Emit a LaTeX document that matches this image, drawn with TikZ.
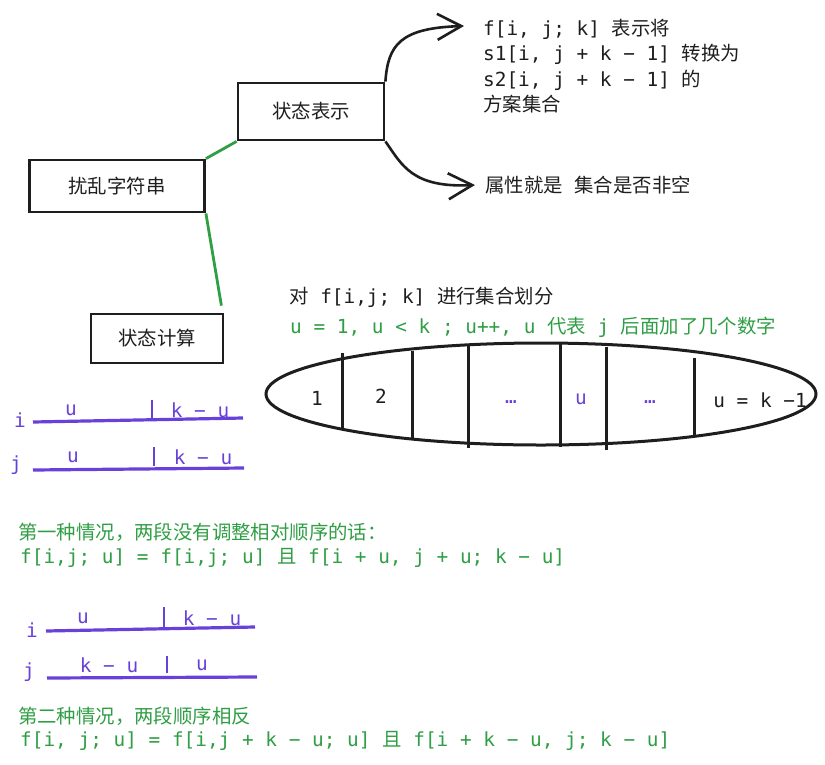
\documentclass[tikz,border=0pt]{standalone}
\usepackage{fontspec}
\setmainfont{DejaVu Sans Mono}
\newfontfamily\zh{Noto Sans CJK SC}
\usetikzlibrary{positioning,arrows.meta}
\definecolor{grn}{HTML}{2F9E44}
\definecolor{vio}{HTML}{6741D9}
\definecolor{ink}{HTML}{1E1E1E}
\tikzset{every node/.style={font=\fontsize{19.4}{25.5}\selectfont, text=ink, inner sep=0pt},
  box/.style={draw=ink, line width=2.8pt, font=\zh\fontsize{19.4}{24}\selectfont},
  tag/.style={anchor=west},
  link/.style={draw=grn, line width=2.8pt},
  curvy/.style={draw=ink, line width=2.6pt, -{Straight Barb[length=24pt,width=26pt]}},
  cut/.style={draw=ink, line width=3pt},
  seg/.style={draw=vio, line width=3.2pt},
  bar/.style={draw=vio, line width=1.8pt}}

\begin{document}
\begin{tikzpicture}[x=1pt, y=-1pt]
  \useasboundingbox (0,0) rectangle (825,764);

  \node[box, minimum width=175pt, minimum height=52pt] (SCR) at (117,186) {扰乱字符串};
  \node[box, minimum width=146pt, minimum height=57pt] (REP) at (311,111.5) {状态表示};
  \node[box, minimum width=132pt, minimum height=49pt] (CAL) at (157,338.5) {状态计算};

  \node[tag, align=left] (DEF) at (483,66) {f[i, j; k] {\zh 表示将}\\s1[i, j + k − 1] {\zh 转换为}\\s2[i, j + k − 1] {\zh 的}\\{\zh 方案集合}};
  \node[tag] (ATTR) at (485,185) {{\zh 属性就是}\ {\zh 集合是否非空}};
  \coordinate (TA) at (464,26);
  \coordinate (TB) at (475,185);

  \draw[link] (SCR.north east) -- (REP.south west);
  \draw[link] (SCR.south east) -- ([xshift=-3pt,yshift=7pt]CAL.north east);
  \draw[curvy] (REP.north east) .. controls (388,45) and (400,28) .. (TA);
  \draw[curvy] (REP.south east) .. controls (402,165) and (412,188) .. (TB);

  \node[tag] (PART) at (289,297) {{\zh 对} f[i,j; k] {\zh 进行集合划分}};
  \node[tag, text=grn] (LOOP) at (290,327) {u = 1, u < k ; u++, u {\zh 代表} j {\zh 后面加了几个数字}};

  \draw[cut] (541,394) ellipse [x radius=275pt, y radius=51pt];
  \foreach \x/\a/\b in {342/353/429, 412/351/440, 468/346/448, 560/344/447, 606/347/450, 694/358/436}
    \draw[cut] (\x,\a) -- (\x,\b);
  \node (K1) at (317,398) {1};
  \node (K2) at (381,396) {2};
  \node[text=vio] (D1) at (511,402) {…};
  \node[text=vio] (KU) at (581,399) {u};
  \node[text=vio] (D2) at (650,402) {…};
  \node (KL) at (760,400) {u = k −1};

  \node[text=vio] (I1) at (20,420) {i};
  \draw[seg] (33,422) -- (243,418);
  \draw[bar] (152,400) -- (152,420);
  \node[text=vio] (I1L) at (71,410) {u};
  \node[text=vio] (I1R) at (200,410) {k − u};
  \node[text=vio] (J1) at (16,465) {j};
  \draw[seg] (33,470) -- (244,468);
  \draw[bar] (154,447) -- (154,466);
  \node[text=vio] (J1L) at (73,457) {u};
  \node[text=vio] (J1R) at (203,457) {k − u};

  \node[tag, text=grn] (CASE1) at (18,532) {{\zh 第一种情况，两段没有调整相对顺序的话：}};
  \node[tag, text=grn] (EQ1) at (20,558) {f[i,j; u] = f[i,j; u] {\zh 且} f[i + u, j + u; k − u]};

  \node[text=vio] (I2) at (32,630) {i};
  \draw[seg] (46,631) -- (255,627);
  \draw[bar] (164,607) -- (164,628);
  \node[text=vio] (I2L) at (83,618) {u};
  \node[text=vio] (I2R) at (212,618) {k − u};
  \node[text=vio] (J2) at (29,672) {j};
  \draw[seg] (47,678) -- (257,677);
  \draw[bar] (167,656) -- (167,673);
  \node[text=vio] (J2L) at (109,665) {k − u};
  \node[text=vio] (J2R) at (202,665) {u};

  \node[tag, text=grn] (CASE2) at (18,716) {{\zh 第二种情况，两段顺序相反}};
  \node[tag, text=grn] (EQ2) at (20,741) {f[i, j; u] = f[i,j + k − u; u] {\zh 且} f[i + k − u, j; k − u]};
\end{tikzpicture}
\end{document}
